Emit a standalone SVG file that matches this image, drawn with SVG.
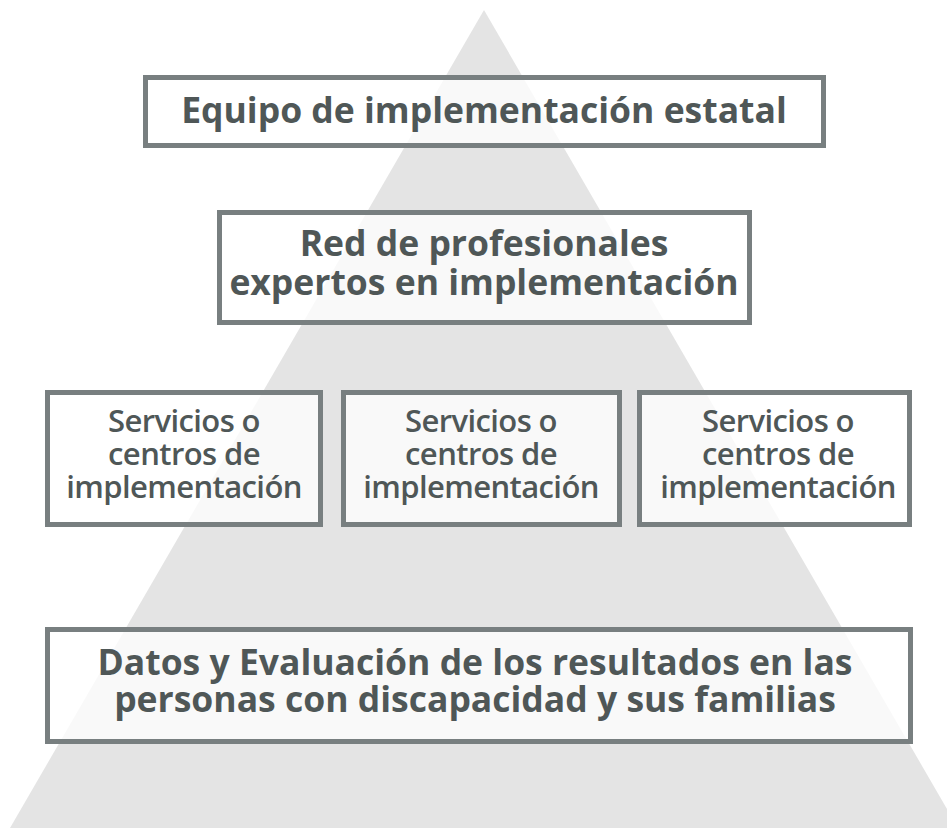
<svg xmlns="http://www.w3.org/2000/svg" width="947" height="828" viewBox="0 0 947 828">
<style>
.box{fill:#ffffff;fill-opacity:0.78;stroke:#787f80;stroke-width:5}
.t{fill:#4f5757;font-family:"Open Sans","Liberation Sans",sans-serif;text-anchor:middle}
.b{font-weight:700;font-size:35.5px}
.r{font-weight:600;font-size:31px;letter-spacing:-0.6px}
</style>
<rect width="947" height="828" fill="#ffffff"/>
<polygon points="484,10 10,828 958,828" fill="#e4e4e4"/>
<g id="equipo">
<rect class="box" x="145.5" y="77.5" width="678" height="68"/>
<text class="t b" x="484" y="123">Equipo de implementación estatal</text>
</g>
<g id="red">
<rect class="box" x="219.5" y="212.5" width="530" height="110"/>
<text class="t b" x="484" y="256">Red de profesionales</text>
<text class="t b" x="484" y="295">expertos en implementación</text>
</g>
<g id="servicios1">
<rect class="box" x="47.5" y="392.5" width="273" height="132"/>
<text class="t r" x="184" y="432">Servicios o</text>
<text class="t r" x="184" y="465">centros de</text>
<text class="t r" x="184" y="498">implementación</text>
</g>
<g id="servicios2">
<rect class="box" x="343.5" y="392.5" width="276" height="132"/>
<text class="t r" x="481" y="432">Servicios o</text>
<text class="t r" x="481" y="465">centros de</text>
<text class="t r" x="481" y="498">implementación</text>
</g>
<g id="servicios3">
<rect class="box" x="639.5" y="392.5" width="270" height="132"/>
<text class="t r" x="778" y="432">Servicios o</text>
<text class="t r" x="778" y="465">centros de</text>
<text class="t r" x="778" y="498">implementación</text>
</g>
<g id="datos">
<rect class="box" x="47.5" y="629.5" width="863" height="112"/>
<text class="t b" x="475" y="675">Datos y Evaluación de los resultados en las</text>
<text class="t b" x="475" y="712">personas con discapacidad y sus familias</text>
</g>
<g id="connectors"></g>
</svg>
